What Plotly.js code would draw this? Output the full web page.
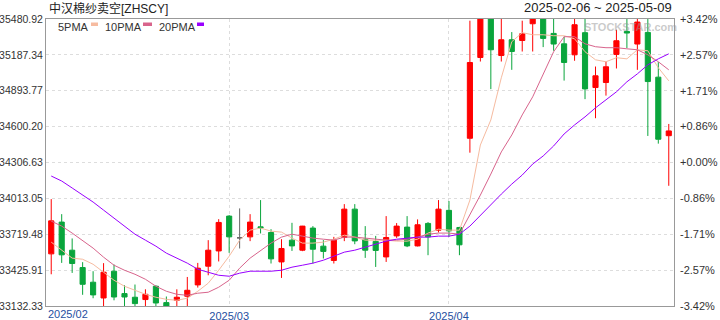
<!DOCTYPE html>
<html><head><meta charset="utf-8">
<script src="https://cdn.plot.ly/plotly-3.0.1.min.js"></script>
<style>html,body{margin:0;padding:0;background:#fff}#chart{width:720px;height:320px}</style>
</head><body><div id="chart"></div>
<script>
const dates = ['2025-02-06','2025-02-07','2025-02-10','2025-02-11','2025-02-12','2025-02-13','2025-02-14','2025-02-17','2025-02-18','2025-02-19','2025-02-20','2025-02-21','2025-02-24','2025-02-25','2025-02-26','2025-02-27','2025-02-28',
'2025-03-03','2025-03-04','2025-03-05','2025-03-06','2025-03-07','2025-03-10','2025-03-11','2025-03-12','2025-03-13','2025-03-14','2025-03-17','2025-03-18','2025-03-19','2025-03-20','2025-03-21','2025-03-24','2025-03-25','2025-03-26','2025-03-27','2025-03-28','2025-03-31',
'2025-04-01','2025-04-02','2025-04-03','2025-04-07','2025-04-08','2025-04-09','2025-04-10','2025-04-11','2025-04-14','2025-04-15','2025-04-16','2025-04-17','2025-04-18','2025-04-21','2025-04-22','2025-04-23','2025-04-24','2025-04-25','2025-04-28','2025-04-29','2025-04-30','2025-05-06'];
const openP  = [33559,33819,33589,33447,33327,33198,33417,33234,33204,33185,33294,33160,33179,33212,33305,33458,33583,33868,33690,33698,33780,33734,33493,33671,33589,33770,33622,33505,33693,33925,33679,33661,33534,33706,33778,33624,33808,33753,33915,33775,34505,35166,35600,35182,35311,35305,35442,35483,35363,35278,35188,35369,34920,34961,35191,35379,35276,35371,35005,34526];
const highP  = [34007,33884,33685,33491,33417,33483,33472,33302,33308,33269,33302,33210,33269,33370,33485,33671,33843,33876,33931,33884,33999,33761,33679,33813,33788,33786,33671,33698,33966,33966,33786,33706,33868,33811,33868,33841,33819,33999,33991,33780,35467,35620,35650,35520,35374,35467,35580,35540,35500,35336,35489,35520,35092,35133,35393,35500,35540,35520,35128,34622];
const lowP   = [33392,33485,33403,33224,33196,33122,33179,33124,33130,33130,33122,33097,33097,33124,33283,33384,33497,33567,33603,33663,33726,33480,33362,33583,33581,33480,33521,33480,33663,33638,33526,33452,33493,33690,33614,33620,33548,33734,33698,33548,34387,35133,34907,35133,35065,35215,35215,35251,35221,34977,35139,34825,34669,34854,35076,35243,35065,34524,34461,34116];
const closeP = [33829,33551,33480,33310,33223,33409,33206,33206,33152,33228,33157,33130,33204,33261,33442,33589,33816,33698,33690,33819,33772,33518,33603,33624,33786,33597,33579,33671,33925,33665,33589,33587,33693,33786,33624,33797,33698,33925,33747,33633,35125,35560,35229,35311,35215,35360,35520,35322,35276,35125,35434,34909,35016,35090,35303,35366,35456,34969,34497,34565];
const ma5  = [33655,33589,33524,33515,33474,33409,33343,33294,33261,33228,33204,33187,33179,33196,33253,33319,33425,33540,33671,33753,33770,33745,33737,33688,33647,33647,33655,33679,33712,33696,33671,33671,33671,33663,33663,33679,33729,33761,33753,33753,33999,34450,34655,35000,35295,35369,35352,35352,35344,35344,35319,35213,35147,35131,35164,35155,35229,35221,35082,34975];
const ma10 = [33827,33786,33729,33671,33606,33532,33466,33425,33392,33351,33294,33253,33228,33220,33237,33245,33286,33343,33442,33524,33589,33647,33696,33720,33704,33688,33679,33671,33696,33696,33688,33679,33671,33671,33679,33696,33720,33729,33729,33720,33876,34040,34212,34393,34532,34696,34844,35032,35213,35336,35336,35278,35254,35246,35246,35237,35229,35188,35131,35065];
const ma20 = [34196,34155,34098,34040,33983,33917,33852,33786,33720,33671,33622,33565,33524,33483,33433,33409,33384,33376,33401,33417,33417,33417,33425,33450,33466,33483,33507,33540,33573,33589,33614,33638,33663,33679,33688,33696,33696,33704,33704,33720,33786,33876,33966,34048,34130,34204,34294,34360,34442,34540,34614,34680,34754,34819,34885,34967,35032,35106,35155,35196];
const priceTicks = [35480.92,35187.34,34893.77,34600.20,34306.63,34013.05,33719.48,33425.91,33132.33];
const priceTickText = ['35480.92','35187.34','34893.77','34600.20','34306.63','34013.05','33719.48','33425.91','33132.33'];
const basePrice = 34306.63;
const pctTickText = ['+3.42%','+2.57%','+1.71%','+0.86%','+0.00%','-0.86%','-1.71%','-2.57%','-3.42%'];
const monthTicks = ['2025-03-03','2025-04-01'];
const monthTickText = ['2025/03','2025/04'];
const firstMonthLabel = '2025/02';
const maNames = ['5PMA','10PMA','20PMA'];
const maColors = ['#f6bba0','#d8648c','#9900ff'];
const titleText = '中汉棉纱卖空[ZHSCY]';
const rangeText = '2025-02-06 ~ 2025-05-09';
const watermark = 'STOCKSTAR.com';

const FONT = '"Liberation Sans", Arial, "Noto Sans CJK SC", sans-serif';
const RED = '#ff0000', GREEN = '#0aa53c', GRAY = '#666666';

const normIdx = [], dojiIdx = [];
dates.forEach((d,i)=>{ (openP[i]===closeP[i] ? dojiIdx : normIdx).push(i); });
const pick = (arr, idx) => idx.map(i=>arr[i]);

const traces = [
  {type:'candlestick', x:pick(dates,normIdx), open:pick(openP,normIdx), high:pick(highP,normIdx), low:pick(lowP,normIdx), close:pick(closeP,normIdx),
   increasing:{line:{color:RED,width:1},fillcolor:RED}, decreasing:{line:{color:GREEN,width:1},fillcolor:GREEN},
   whiskerwidth:0, showlegend:false, hoverinfo:'skip'},
  {type:'candlestick', x:pick(dates,dojiIdx), open:pick(openP,dojiIdx), high:pick(highP,dojiIdx), low:pick(lowP,dojiIdx), close:pick(closeP,dojiIdx),
   increasing:{line:{color:GRAY,width:1},fillcolor:GRAY}, decreasing:{line:{color:GRAY,width:1},fillcolor:GRAY},
   whiskerwidth:0, showlegend:false, hoverinfo:'skip'},
  {type:'scatter', mode:'lines', x:dates, y:ma5, line:{color:maColors[0],width:1}, showlegend:false, hoverinfo:'skip'},
  {type:'scatter', mode:'lines', x:dates, y:ma10, line:{color:maColors[1],width:1}, showlegend:false, hoverinfo:'skip'},
  {type:'scatter', mode:'lines', x:dates, y:ma20, line:{color:maColors[2],width:1}, showlegend:false, hoverinfo:'skip'},
  {type:'scatter', mode:'markers', x:[dates[0]], y:[0], yaxis:'y2', marker:{opacity:0}, showlegend:false, hoverinfo:'skip'}
];

const pct = p => (p/basePrice - 1)*100;
const yMin = priceTicks[priceTicks.length-1], yMax = priceTicks[0];

const PW = 628, PH = 287;
const legX = [56, 103, 157];
const swX = [[91,98],[143,152],[197,204]];
const annotations = [
  {xref:'paper', yref:'paper', x:1, y:1+(19-7.5)/PH, xanchor:'right', yanchor:'middle', text:rangeText, showarrow:false, font:{family:FONT,size:13,color:'#222'}},
  {xref:'paper', yref:'paper', x:0, y:-(314-306)/PH, xanchor:'left', yanchor:'middle', text:firstMonthLabel, showarrow:false, font:{family:FONT,size:11,color:'#1f4f9f'}},
  {xref:'paper', yref:'paper', x:(630-46)/PW, y:1-(27-19)/PH, xanchor:'center', yanchor:'middle', text:'<b>'+watermark+'</b>', showarrow:false, font:{family:FONT,size:11,color:'rgba(150,150,150,0.5)'}}
];
const shapes = [];
maNames.forEach((n,k)=>{
  annotations.push({xref:'paper', yref:'paper', x:(legX[k]-46)/PW, y:1-(27.3-19)/PH, xanchor:'left', yanchor:'middle', text:n, showarrow:false, font:{family:FONT,size:11,color:'#333'}});
  shapes.push({type:'rect', xref:'paper', yref:'paper', x0:(swX[k][0]-46)/PW, x1:(swX[k][1]-46)/PW, y0:1-(26-19)/PH, y1:1-(22.5-19)/PH, fillcolor:maColors[k], line:{width:0}});
});

const layout = {
  width:720, height:320,
  margin:{l:46, r:46, t:19, b:14, pad:0},
  paper_bgcolor:'#fff', plot_bgcolor:'#fff',
  showlegend:false,
  title:{text:titleText, x:49/720, xanchor:'left', xref:'container', y:1-8.5/320, yref:'container', yanchor:'middle', pad:{t:0,b:0,l:0,r:0}, font:{family:FONT,size:12,color:'#222'}},
  xaxis:{type:'category', categoryorder:'array', categoryarray:dates, range:[-0.5, dates.length-0.5], rangeslider:{visible:false}, tickmode:'array', tickvals:monthTicks, ticktext:monthTickText,
    showgrid:true, gridcolor:'#dddddd', griddash:'3px,3px', gridwidth:1, ticks:'', showline:true, mirror:true, linecolor:'#999', linewidth:1,
    tickfont:{family:FONT,size:11,color:'#1f4f9f'}, zeroline:false, fixedrange:true},
  yaxis:{range:[yMin,yMax], tickmode:'array', tickvals:priceTicks, ticktext:priceTickText, showgrid:true, gridcolor:'#dddddd', griddash:'3px,3px',
    ticks:'', showline:true, mirror:true, linecolor:'#999', linewidth:1, zeroline:false, tickfont:{family:FONT,size:10.5,color:'#333'}, fixedrange:true},
  yaxis2:{overlaying:'y', side:'right', anchor:'x', range:[pct(yMin),pct(yMax)], tickmode:'array', tickvals:priceTicks.map(pct), ticktext:pctTickText,
    showgrid:false, zeroline:false, showline:false, ticks:'', ticklabelstandoff:5, tickfont:{family:FONT,size:11,color:'#333'}, fixedrange:true},
  annotations, shapes
};
Plotly.newPlot('chart', traces, layout, {staticPlot:true, displayModeBar:false});
</script></body></html>
